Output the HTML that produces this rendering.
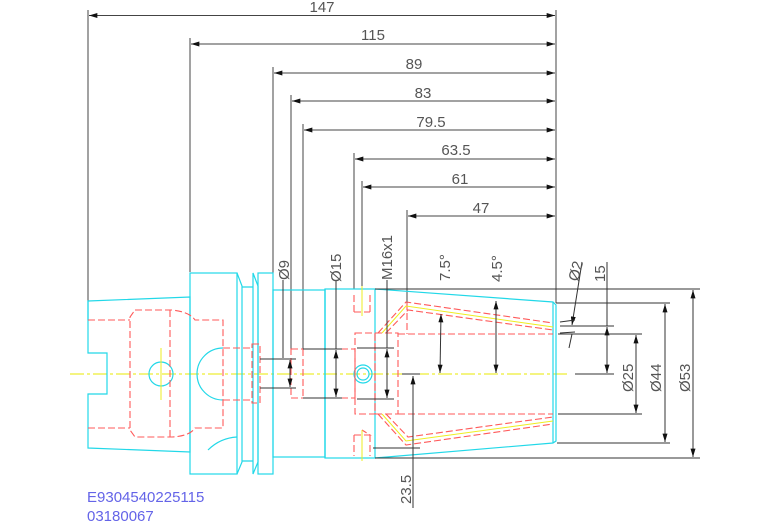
<!DOCTYPE html>
<html><head><meta charset="utf-8"><style>
html,body{margin:0;padding:0;background:#fff;}
svg{display:block;}
text{font-family:"Liberation Sans",sans-serif;fill:#555;font-size:15px;}
</style></head><body>
<svg width="767" height="523" viewBox="0 0 767 523" xmlns="http://www.w3.org/2000/svg">
<defs>
<marker id="a" viewBox="0 0 10 6" refX="10" refY="3" markerWidth="9" markerHeight="5" orient="auto-start-reverse" markerUnits="userSpaceOnUse"><path d="M0,0L10,3L0,6z" fill="#111"/></marker>
</defs>
<!-- top dimensions -->
<g stroke="#444" stroke-width="1" fill="none">
<line x1="556" y1="10" x2="556" y2="303"/>
<line x1="88" y1="10" x2="88" y2="301"/>
<line x1="190" y1="38" x2="190" y2="272"/>
<line x1="273" y1="67" x2="273" y2="290"/>
<line x1="291" y1="95" x2="291" y2="355"/>
<line x1="303" y1="124" x2="303" y2="349"/>
<line x1="354" y1="153" x2="354" y2="289"/>
<line x1="362" y1="181" x2="362" y2="289"/>
<line x1="407" y1="210" x2="407" y2="303"/>
<g marker-start="url(#a)" marker-end="url(#a)">
<line x1="89" y1="15.5" x2="555" y2="15.5"/>
<line x1="191" y1="44" x2="555" y2="44"/>
<line x1="274" y1="73" x2="555" y2="73"/>
<line x1="292" y1="101" x2="555" y2="101"/>
<line x1="304" y1="130" x2="555" y2="130"/>
<line x1="355" y1="159" x2="555" y2="159"/>
<line x1="363" y1="187" x2="555" y2="187"/>
<line x1="408" y1="216" x2="555" y2="216"/>
</g>
</g>
<g text-anchor="middle">
<text x="322" y="12">147</text>
<text x="373" y="40">115</text>
<text x="414" y="69">89</text>
<text x="423" y="98">83</text>
<text x="431" y="127">79.5</text>
<text x="456" y="155">63.5</text>
<text x="460" y="184">61</text>
<text x="481" y="213">47</text>
</g>
<!-- center line -->
<line x1="70" y1="374" x2="570" y2="374" stroke="#e8e800" stroke-width="1" stroke-dasharray="14,3,3,3"/>
<!-- cyan outline -->
<g stroke="#22d8e8" stroke-width="1.2" fill="none">
<path d="M88,301 L190,297 L190,452 L88,448 L88,394 L107,394 L107,353 L88,353 Z"/>
<path d="M88,320 L88,301"/>
<rect x="190" y="273" width="47" height="201"/>
<path d="M237,273 L242,286 L242,462 L237,474"/>
<path d="M242,287 L253,287 M242,461 L253,461"/>
<path d="M253,273 L258,286 L258,462 L253,474 Z"/>
<rect x="258" y="273" width="15" height="201"/>
<rect x="273" y="290" width="52" height="167"/>
<line x1="325" y1="289" x2="325" y2="458"/>
<rect x="325" y="289" width="50" height="169"/>
<path d="M375,289 L553,302 L556,305 L556,441 L553,443 L375,458"/>
<line x1="553" y1="302" x2="553" y2="443"/>
<circle cx="161" cy="374" r="12"/>
<path d="M223,348 A26,26 0 0 0 223,400"/>
<circle cx="363" cy="374" r="9"/>
<circle cx="363" cy="374" r="6"/>
<path d="M208,450 Q220,438 237,437"/>
</g>
<!-- red dashed hidden lines -->
<g stroke="#ff5a5a" stroke-width="1.1" fill="none" stroke-dasharray="7,3">
<path d="M88,320 L130,320 M88,428 L130,428"/>
<path d="M135,310 L170,310 L172,310 Q190,312 195,320 L223,320 L223,428 L195,428 Q190,436 172,437 L135,437 L130,430 L130,317 Z"/>
<line x1="170" y1="310" x2="170" y2="437"/>
<path d="M223,348 L253,348 M223,400 L253,400"/>
<rect x="252" y="344" width="8" height="59"/>
<path d="M260,359 L273,359 M260,388 L273,388"/>
<rect x="291" y="349" width="64" height="49"/>
<line x1="303" y1="349" x2="303" y2="398"/>
<rect x="355" y="333" width="20" height="81"/>
<rect x="375" y="333" width="23" height="81"/>
<path d="M398,334 L553,334 M398,414 L553,414"/>
<path d="M378,333 L406,302 L553,323"/>
<path d="M386,333 L408,310 L553,330"/>
<path d="M378,414 L406,445 L553,424"/>
<path d="M386,414 L408,437 L553,417"/>
<path d="M354,312 L354,292 M370,312 L370,292 M354,312 L370,312"/>
<path d="M354,435 L354,456 M370,435 L370,456 M354,435 L370,435 L362,430"/>
<line x1="407" y1="303" x2="407" y2="334"/>
</g>
<g stroke="#eeee20" stroke-width="1" fill="none">
<path d="M382,333 L406,306 L553,327"/>
<path d="M382,414 L406,441 L553,421"/>
<line x1="362" y1="286" x2="362" y2="316"/>
<line x1="362" y1="430" x2="362" y2="461"/>
<line x1="161" y1="348" x2="161" y2="400"/>
</g>
<!-- internal dims -->
<g stroke="#333" stroke-width="1" fill="none">
<line x1="283" y1="280" x2="283" y2="358"/>
<path d="M260,359 L296,359 M260,388 L296,388"/>
<line x1="290" y1="360" x2="290" y2="387" marker-start="url(#a)" marker-end="url(#a)"/>
<line x1="336" y1="280" x2="336" y2="349"/>
<path d="M303,349 L342,349 M303,398 L342,398"/>
<line x1="336" y1="350" x2="336" y2="397" marker-start="url(#a)" marker-end="url(#a)"/>
<path d="M357,348 L394,348 M357,399 L394,399"/>
<line x1="387" y1="280" x2="387" y2="348"/>
<line x1="387" y1="349" x2="387" y2="398" marker-start="url(#a)" marker-end="url(#a)"/>
<path d="M402,374 L420,374"/>
<line x1="413" y1="376" x2="413" y2="508" marker-start="url(#a)"/>
<path d="M373,448 L420,448"/>
<line x1="441" y1="314" x2="440" y2="373" marker-start="url(#a)" marker-end="url(#a)"/>
<line x1="496" y1="301" x2="496" y2="373" marker-start="url(#a)" marker-end="url(#a)"/>
<path d="M556,303 L670,303"/>
<path d="M375,289 L700,289"/>
<path d="M375,458 L700,458"/>
<path d="M557,443 L670,443"/>
<path d="M558,334 L642,334 M558,414 L642,414"/>
<path d="M560,326 L614,326 M575,374 L614,374"/>
<line x1="607" y1="262" x2="607" y2="326"/>
<line x1="607" y1="327" x2="607" y2="373" marker-start="url(#a)" marker-end="url(#a)"/>
<line x1="636" y1="335" x2="636" y2="413" marker-start="url(#a)" marker-end="url(#a)"/>
<line x1="665" y1="304" x2="665" y2="442" marker-start="url(#a)" marker-end="url(#a)"/>
<line x1="693" y1="290" x2="693" y2="457" marker-start="url(#a)" marker-end="url(#a)"/>
<line x1="582" y1="262" x2="572" y2="325" marker-end="url(#a)"/>
<line x1="572" y1="334" x2="569" y2="348"/>
<path d="M560,322 L575,320 M560,333 L575,332"/>
</g>
<!-- rotated labels -->
<g>
<text transform="translate(289,280) rotate(-90)">Ø9</text>
<text transform="translate(341,282) rotate(-90)">Ø15</text>
<text transform="translate(392,280) rotate(-90)">M16x1</text>
<text transform="translate(450,281) rotate(-90)">7.5°</text>
<text transform="translate(502,282) rotate(-90)">4.5°</text>
<text transform="translate(578,282) rotate(-75)">Ø2</text>
<text transform="translate(605,282) rotate(-90)">15</text>
<text transform="translate(633,392) rotate(-90)">Ø25</text>
<text transform="translate(661,392) rotate(-90)">Ø44</text>
<text transform="translate(690,392) rotate(-90)">Ø53</text>
<text transform="translate(411,504) rotate(-90)">23.5</text>
</g>
<text x="87" y="502" style="fill:#6464e8;font-size:15px">E9304540225115</text>
<text x="87" y="521" style="fill:#6464e8;font-size:15px">03180067</text>
</svg>
</body></html>
